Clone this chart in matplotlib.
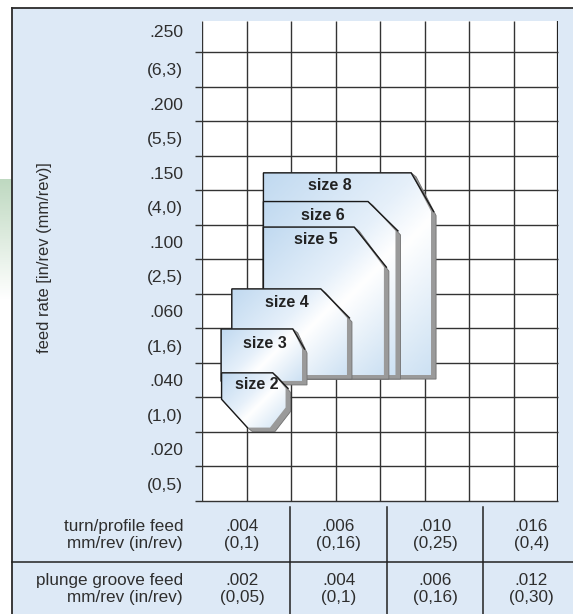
import numpy as np
import matplotlib
matplotlib.use('Agg')
import matplotlib.pyplot as plt
from matplotlib.patches import Polygon, Rectangle
from matplotlib.colors import LinearSegmentedColormap

plt.rcParams['font.family'] = ['Liberation Sans', 'DejaVu Sans']

# y axis: rows of the grid, labels from the bottom row up
ytick_labels = ['(0,5)', '.020', '(1,0)', '.040', '(1,6)', '.060', '(2,5)',
                '.100', '(4,0)', '.150', '(5,5)', '.200', '(6,3)', '.250']

# insert sizes, regions in grid units (columns / rows)
sizes = ['size 8', 'size 6', 'size 5', 'size 4', 'size 3', 'size 2']
left = [1.38, 1.38, 1.38, 0.67, 0.43, 0.44]
right = [5.26, 4.46, 4.20, 3.37, 2.36, 1.99]
bottom = [3.53, 3.53, 3.53, 3.53, 3.36, 2.01]
top = [9.50, 8.67, 7.93, 6.14, 4.98, 3.71]
cham_x = [4.70, 3.73, 3.42, 2.67, 2.04, 1.59]   # top-right chamfer starts
cham_y = [8.38, 7.82, 6.77, 5.30, 4.40, 3.26]   # top-right chamfer ends
br_cut = [(0, 0)] * 5 + [(0.35, 0.58)]           # lower-right chamfer (dx, dy)
bl_cut = [(0, 0)] * 5 + [(0.58, 0.82)]           # lower-left chamfer (dx, dy)
label_x = [2.88, 2.72, 2.56, 1.91, 1.42, 1.24]
label_y = [9.12, 8.28, 7.56, 5.76, 4.57, 3.36]

# table below the chart
row_names = ['turn/profile feed\nmm/rev (in/rev)', 'plunge groove feed\nmm/rev (in/rev)']
turn_in = ['.004', '.006', '.010', '.016']
turn_mm = ['(0,1)', '(0,16)', '(0,25)', '(0,4)']
plunge_in = ['.002', '.004', '.006', '.012']
plunge_mm = ['(0,05)', '(0,1)', '(0,16)', '(0,30)']

W, H = 573, 614
txt = '#2e2e2e'
fig = plt.figure(figsize=(W / 100, H / 100), dpi=100)

# background layer in pixel coords
bg = fig.add_axes([0, 0, 1, 1], zorder=0)
bg.axis('off')
green = LinearSegmentedColormap.from_list('g', ['#bfd9c1', '#ffffff'])
bg.imshow(np.linspace(0, 1, 60).reshape(-1, 1), cmap=green, aspect='auto',
          extent=(0, 12, 300, 179), origin='upper')
bg.add_patch(Rectangle((12, 8), W - 12, H - 8, fc='#dde9f6', ec='none'))
bg.plot([12, 12], [H, 8], color='#2b2b2b', lw=1.3)
bg.plot([12, W], [8, 8], color='#2b2b2b', lw=1.3)

# table
bg.plot([12, W], [561.7, 561.7], color='#222', lw=1.1)
col_w = 96.5
for i in range(3):
    xs = 290 + col_w * i
    bg.plot([xs, xs], [507, H], color='#222', lw=1.1)
for r, (name, v_in, v_mm) in enumerate([(row_names[0], turn_in, turn_mm),
                                        (row_names[1], plunge_in, plunge_mm)]):
    yc = 535 + r * 54
    bg.text(183, yc, name, ha='right', va='center', multialignment='right',
            fontsize=12.3, color=txt, linespacing=1.1)
    for i in range(4):
        bg.text(242 + col_w * i, yc, v_in[i] + '\n' + v_mm[i], ha='center',
                va='center', fontsize=12.3, color=txt, linespacing=1.1)

bg.text(45, 258, 'feed rate [in/rev (mm/rev)]', rotation=90, ha='center',
        va='center', fontsize=11.9, color=txt)
bg.set_xlim(0, W)
bg.set_ylim(H, 0)

# grid chart
row_px, col_px = 34.54, 44.5
ymax = 480 / row_px
ax = fig.add_axes([202 / W, 113 / H, 356 / W, 480 / H], zorder=1)
ax.set_facecolor('white')
for s in ax.spines.values():
    s.set_visible(False)
ax.set_xticks([])
ax.vlines(np.arange(0, 8), 0, ymax, color='#333', lw=1.0, zorder=1)
ax.vlines(8, 0, ymax, color='#222', lw=1.6, zorder=1)
ax.hlines(np.arange(0, 14), -7 / col_px, 8, color='#333', lw=1.0,
          zorder=1, clip_on=False)
ypos = list(np.arange(13) + 0.5) + [13.62]
ax.set_yticks(ypos)
ax.set_yticklabels(ytick_labels, fontsize=12.6, color=txt)
ax.tick_params(axis='y', length=0, pad=13.7)

sheen = LinearSegmentedColormap.from_list(
    'sheen', [(0, '#c0d9f0'), (0.42, '#e6f0fa'), (0.58, '#ffffff'), (1, '#cde1f3')])


def hull(pts):
    pts = sorted(set(pts))

    def cross(o, a, b):
        return (a[0] - o[0]) * (b[1] - o[1]) - (a[1] - o[1]) * (b[0] - o[0])
    lower, upper = [], []
    for p in pts:
        while len(lower) >= 2 and cross(lower[-2], lower[-1], p) <= 0:
            lower.pop()
        lower.append(p)
    for p in reversed(pts):
        while len(upper) >= 2 and cross(upper[-2], upper[-1], p) <= 0:
            upper.pop()
        upper.append(p)
    return lower[:-1] + upper[:-1]


d, e = 5 / col_px, 4 / row_px
for i, name in enumerate(sizes):
    z = 2 + i
    L, T, cx, cy = left[i], top[i], cham_x[i], cham_y[i]
    R, B = right[i] - d, bottom[i] + e
    (brx, bry), (blx, bly) = br_cut[i], bl_cut[i]
    face = [(L, T), (cx, T), (R, cy), (R, B + bry), (R - brx, B),
            (L + blx, B), (L, B + bly)]
    back = hull(face + [(x + d, y - e) for x, y in face])
    ax.add_patch(Polygon(back, closed=True, fc='#9a9a9a', ec='#707070',
                         lw=0.6, zorder=z))
    # gradient face
    gx, gy = np.meshgrid(np.linspace(0, 1, 120), np.linspace(0, 1, 120))
    wpx, hpx = (R - L) * col_px, (T - B) * row_px
    t = (gx * wpx + (1 - gy) * hpx) / (wpx + hpx)
    clip = Polygon(face, closed=True, transform=ax.transData)
    im = ax.imshow(t, cmap=sheen, vmin=0, vmax=1, extent=(L, R, B, T),
                   origin='lower', aspect='auto', zorder=z + 0.1,
                   interpolation='bilinear')
    im.set_clip_path(clip)
    outline = [(L + blx, B), (L, B + bly), (L, T), (cx, T), (R + d * 0.5, cy)]
    ax.plot(*zip(*outline), color='#1a1a1a', lw=1.0, zorder=z + 0.2,
            solid_joinstyle='miter')
    ax.text(label_x[i], label_y[i], name, ha='center', va='center',
            fontsize=11.5, fontweight='bold', color='#222', zorder=z + 0.3)

ax.set_xlim(0, 8)
ax.set_ylim(0, ymax)

fig.savefig('out.png', dpi=100)
